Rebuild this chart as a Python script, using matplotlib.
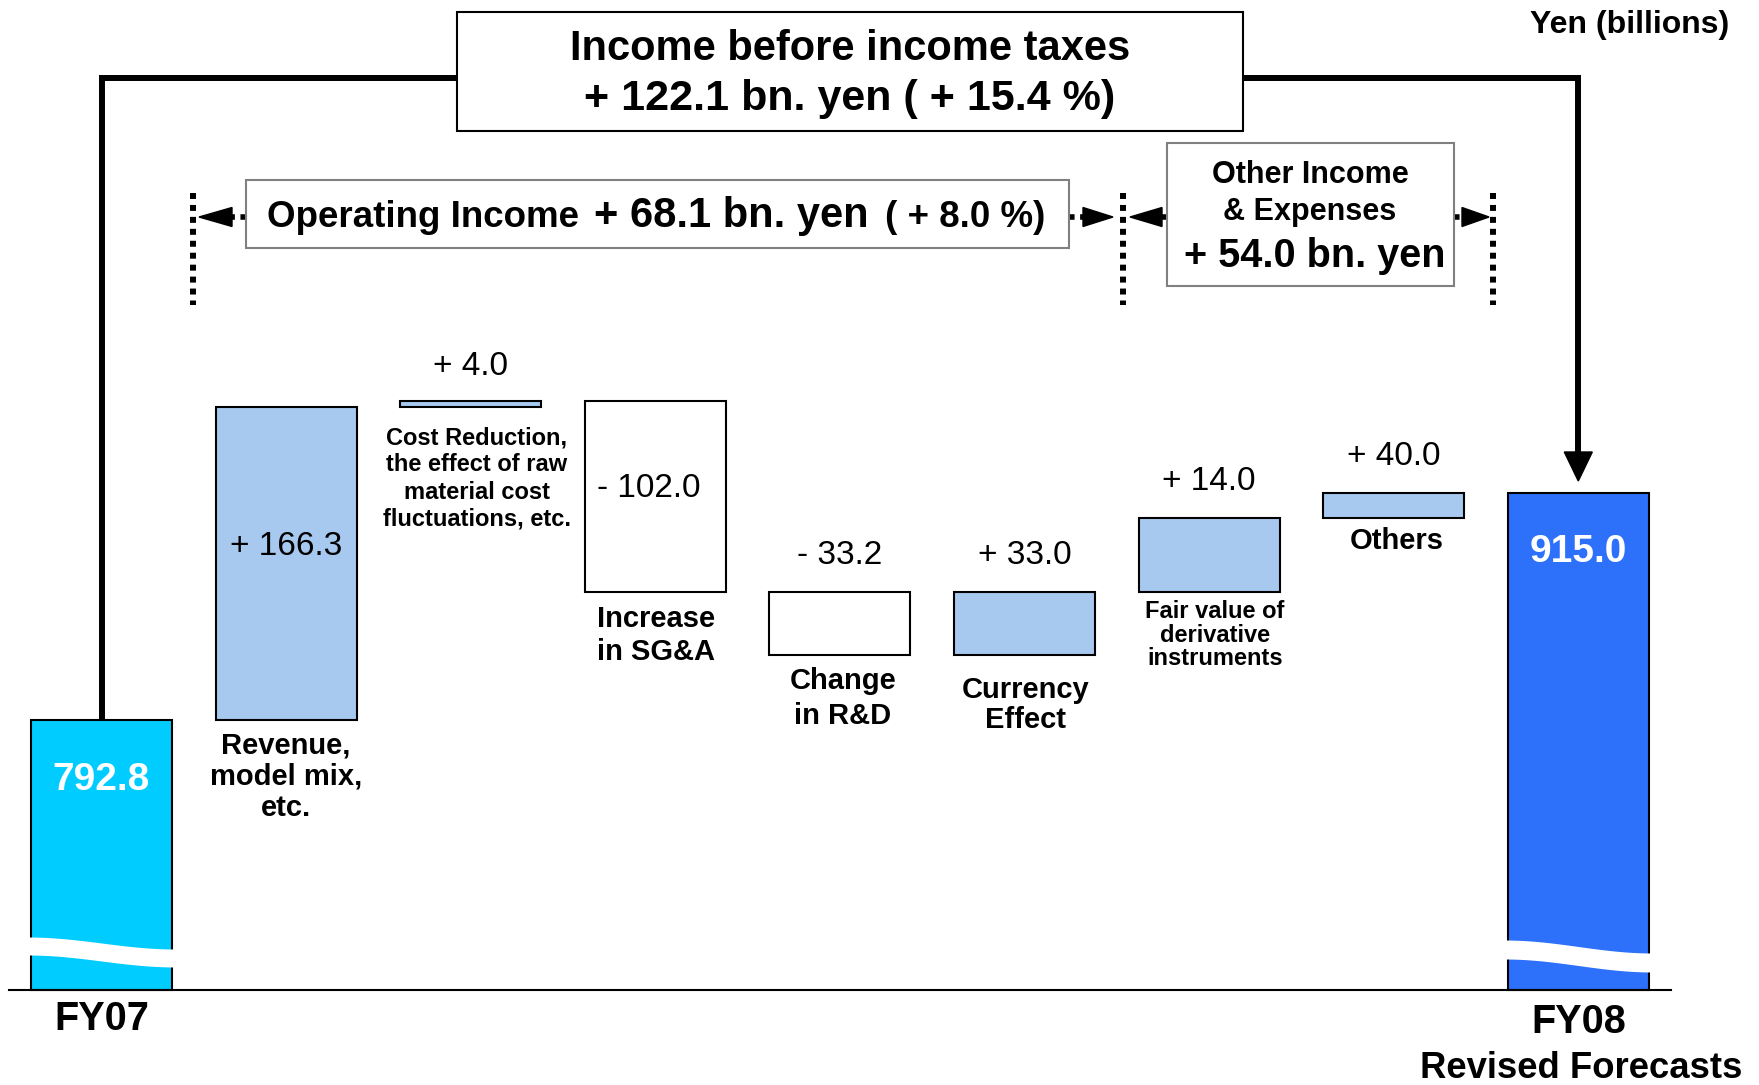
import numpy as np
import matplotlib.pyplot as plt
from matplotlib.patches import Rectangle

plt.rcParams['font.family'] = ['Liberation Sans', 'DejaVu Sans']

# ---- data ----
categories = ['FY07', 'Revenue,\nmodel mix,\netc.',
              'Cost Reduction,\nthe effect of raw\nmaterial cost\nfluctuations, etc.',
              'Increase\nin SG&A', 'Change\nin R&D', 'Currency\nEffect',
              'Fair value of\nderivative\ninstruments', 'Others', 'FY08']
value_labels = ['792.8', '+ 166.3', '+ 4.0', '- 102.0', '- 33.2', '+ 33.0',
                '+ 14.0', '+ 40.0', '915.0']
# the slide is not drawn to scale, so these are the drawn bar sizes
start_height = 270
steps = [313, 6, -191, -63, 63, 74, 25]

# ---- geometry helpers (pixel -> data) ----
PITCH, X0, BASE = 184.6, 101.5, 990.0
W, H = 1759, 1085


def px(x):
    return (x - X0) / PITCH


def py(y):
    return BASE - y


fig = plt.figure(figsize=(W / 100, H / 100), dpi=100)
ax = fig.add_axes([0, 0, 1, 1])
ax.set_xlim(px(0), px(W))
ax.set_ylim(py(H), py(0))
ax.axis('off')

# waterfall bars
cum = start_height + np.cumsum(steps)
prev = np.concatenate([[start_height], cum[:-1]])
n = len(categories)
bottoms = np.concatenate([[0], np.minimum(prev, cum), [0]])
heights = np.concatenate([[start_height], np.abs(steps), [cum[-1]]])
tops = bottoms + heights
colors = ['#00CCFF'] + ['#A7C9F0' if s > 0 else 'white' for s in steps] + ['#2D70FA']
xs = np.arange(n)
bw = 0.764
ax.bar(xs, heights, bottom=bottoms, width=bw, color=colors,
       edgecolor='black', linewidth=1.5, zorder=2)

# axis break bands on the two totals
for i, (y0, dy, th) in [(0, (53, 12, 18)), (n - 1, (50, 13, 19))]:
    t = np.linspace(0, 1, 60)
    xx = i - bw / 2 - 0.02 + t * (bw + 0.04)
    top = y0 - dy * (1 - np.cos(np.pi * t)) / 2
    ax.fill_between(xx, top - th, top, color='white', lw=0, zorder=3)

# baseline
ax.plot([px(9), px(1671)], [0, 0], color='black', lw=1.5, zorder=4)

# value labels
value_offset = [-70, -148, 26, -96, 28, 28, 28, 28, -69]
for i, lab in enumerate(value_labels):
    if i in (0, n - 1):
        ax.text(i, tops[i] + value_offset[i], lab, ha='center', va='baseline',
                fontsize=28, fontweight='bold', color='white', zorder=5)
    elif i == 3:
        ax.text(i - bw / 2 + 12 / PITCH, tops[i] + value_offset[i], lab, ha='left',
                va='baseline', fontsize=24, color='black', zorder=5)
    else:
        ax.text(i, tops[i] + value_offset[i], lab, ha='center', va='baseline',
                fontsize=24, color='black', zorder=5)


def line_block(x, y, text, size, step):
    for k, line in enumerate(text.split('\n')):
        ax.text(x, y - k * step, line, ha='center', va='baseline',
                fontsize=size, fontweight='bold', zorder=5)


# category labels: first-baseline gap below the bar, font size, line step, x nudge (px)
cat_offset = [0, 34, 37, 35, 34, 43, 26, 30.6, 0]
cat_size = [28, 21, 17, 21, 21, 21, 17, 21, 28]
cat_step = [0, 30.8, 27.3, 32.5, 34.8, 30.3, 23.6, 0, 0]
cat_dx = [0, 0, 6, 1, 3, 1, 6, 3, 0]
for i in range(1, n - 1):
    line_block(i + cat_dx[i] / PITCH, bottoms[i] - cat_offset[i], categories[i],
               cat_size[i], cat_step[i])

ax.text(0, py(1030), categories[0], ha='center', va='baseline',
        fontsize=28.5, fontweight='bold')
ax.text(n - 1, py(1033), categories[-1], ha='center', va='baseline',
        fontsize=28.5, fontweight='bold')
ax.text(n - 1 + 3 / PITCH, py(1078), 'Revised Forecasts', ha='center', va='baseline',
        fontsize=26.3, fontweight='bold')

ax.text(px(1729), py(33), 'Yen (billions)', ha='right', va='baseline',
        fontsize=23, fontweight='bold')

# income before income taxes bracket
ytop = py(77.5)
ax.plot([0, 0, px(456.6)], [tops[0], ytop, ytop], color='black', lw=4.3,
        solid_joinstyle='miter', zorder=1)
tip = tops[-1] + 12
hbase = tip + 29
ax.plot([px(1243), n - 1, n - 1], [ytop, ytop, hbase], color='black', lw=4.3,
        solid_joinstyle='miter', zorder=1)
hw = 14 / PITCH
ax.fill([n - 1 - hw, n - 1 + hw, n - 1], [hbase, hbase, tip], color='black', zorder=1)

ax.add_patch(Rectangle((px(456.6), py(131)), (1243 - 456.6) / PITCH, 131 - 12.3,
                       facecolor='white', edgecolor='black', lw=1.5, zorder=3))
ax.text(px(850), py(60), 'Income before income taxes', ha='center', va='baseline',
        fontsize=30, fontweight='bold', zorder=4)
ax.text(px(850), py(110), '+ 122.1 bn. yen ( + 15.4 %)', ha='center', va='baseline',
        fontsize=31, fontweight='bold', zorder=4)

# dotted range markers
for xd in (193, 1122.7, 1492.7):
    ax.plot([px(xd)] * 2, [py(193), py(305)], color='black', lw=4.3,
            ls=(0, (1, 1)), dash_capstyle='butt', zorder=2)


def dotted_arrow(x_from, base, tip_x, y=217):
    ax.plot([px(x_from), px(base)], [py(y), py(y)], color='black', lw=4,
            ls=(0, (1, 1)), dash_capstyle='butt', zorder=2)
    ax.fill([px(base), px(base), px(tip_x)], [py(y - 9.5), py(y + 9.5), py(y)],
            color='black', zorder=2)


dotted_arrow(245.7, 232, 199)
dotted_arrow(1069, 1083, 1113)
dotted_arrow(1166.7, 1162, 1130)
dotted_arrow(1454, 1462, 1489)

# operating income box
ax.add_patch(Rectangle((px(245.7), py(248)), (1069 - 245.7) / PITCH, 248 - 179.5,
                       facecolor='white', edgecolor='#808080', lw=1.5, zorder=3))
ax.text(px(267), py(227), 'Operating Income', ha='left', va='baseline',
        fontsize=26.5, fontweight='bold', zorder=4)
ax.text(px(594), py(227), '+ 68.1 bn. yen', ha='left', va='baseline',
        fontsize=30, fontweight='bold', zorder=4)
ax.text(px(885), py(227), '( + 8.0 %)', ha='left', va='baseline',
        fontsize=26.5, fontweight='bold', zorder=4)

# other income box
ax.add_patch(Rectangle((px(1166.7), py(286)), (1454 - 1166.7) / PITCH, 286 - 143,
                       facecolor='white', edgecolor='#808080', lw=1.5, zorder=3))
ax.text(px(1310), py(183), 'Other Income', ha='center', va='baseline',
        fontsize=22, fontweight='bold', zorder=4)
ax.text(px(1310), py(220), '& Expenses', ha='center', va='baseline',
        fontsize=22, fontweight='bold', zorder=4)
ax.text(px(1315), py(266.7), '+ 54.0 bn. yen', ha='center', va='baseline',
        fontsize=28.5, fontweight='bold', zorder=4)

fig.savefig('out.png', dpi=100)
